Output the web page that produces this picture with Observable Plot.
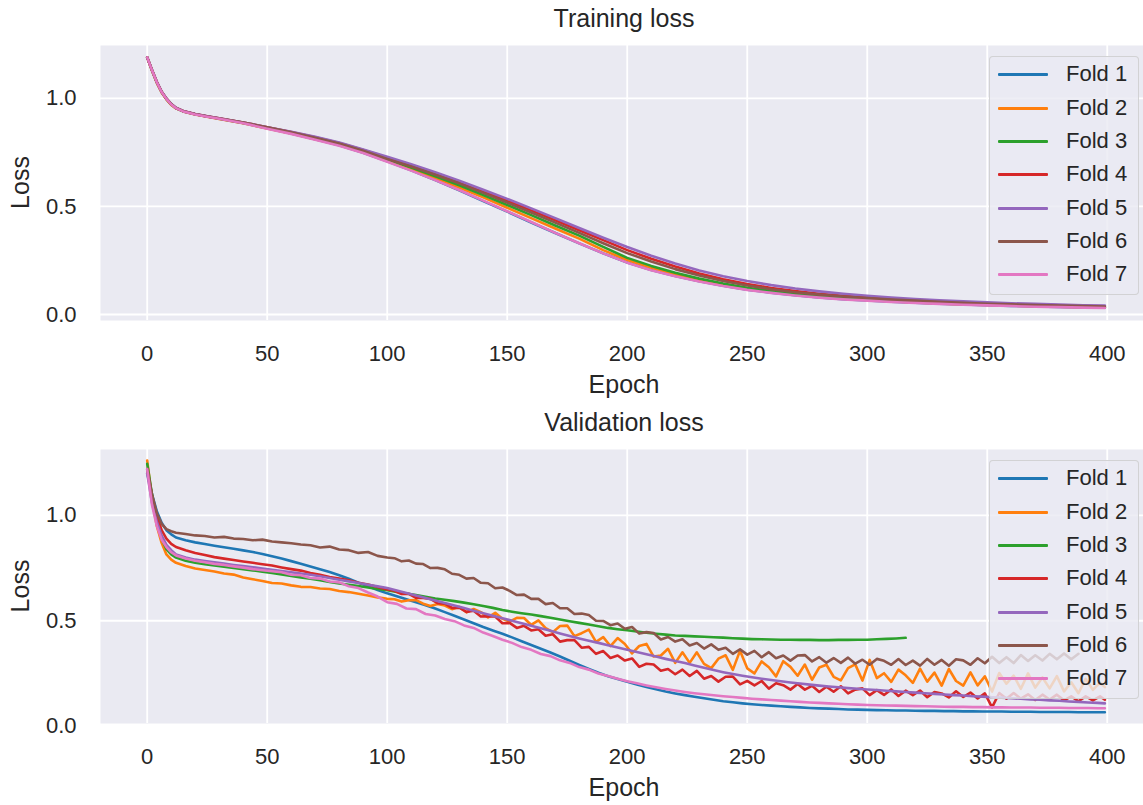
<!DOCTYPE html>
<html><head><meta charset="utf-8">
<script src="https://cdn.jsdelivr.net/npm/d3@7"></script>
<script src="https://cdn.jsdelivr.net/npm/@observablehq/plot@0.6"></script>
<style>
html,body{margin:0;padding:0;background:#fff;overflow:hidden;}
#root{position:relative;width:1143px;height:805px;font-family:"Liberation Sans",Arial,sans-serif;color:#262626;}
#root svg{position:absolute;left:0;overflow:visible;}
.legend{position:absolute;box-sizing:border-box;background:rgba(234,234,242,0.8);border:1px solid rgba(204,204,204,0.8);border-radius:4px;}
.legend .row{position:absolute;left:0;height:0;}
.legend .sw{position:absolute;left:8px;top:-1px;width:50px;height:3px;border-radius:1px;}
.legend .lb{position:absolute;left:76px;top:-13px;font-size:22px;line-height:26px;white-space:nowrap;color:#262626;}
</style></head><body><div id="root"></div><script>
const folds = ["Fold 1","Fold 2","Fold 3","Fold 4","Fold 5","Fold 6","Fold 7"];
const colors = ["#1f77b4","#ff7f0e","#2ca02c","#d62728","#9467bd","#8c564b","#e377c2"];
const xTicks = [0,50,100,150,200,250,300,350,400];
const yTicks = [0,0.5,1.0];

const trainEpochs = [0,2,4,6,8,10,12,15,20,25,30,40,50,60,70,80,90,100,110,120,130,140,150,160,170,180,190,200,210,220,230,240,250,260,270,280,290,300,310,320,330,340,350,360,370,380,390,399];
const trainFold1 = [1.19,1.13,1.074,1.03,0.997,0.972,0.955,0.94,0.927,0.916,0.906,0.886, 0.862,0.838,0.811,0.783,0.749,0.709, 0.667,0.622,0.575,0.525,0.476,0.426,0.377,0.329,0.283,0.241, 0.206,0.178,0.154,0.133,0.115,0.101,0.089,0.079,0.071,0.065, 0.059,0.054,0.05,0.046,0.043,0.04,0.037,0.035,0.033,0.031];
const trainFold2 = [1.19,1.128,1.072,1.028,0.996,0.97,0.954,0.94,0.926,0.915,0.905,0.885, 0.861,0.838,0.811,0.784,0.751,0.712, 0.673,0.632,0.588,0.542,0.494,0.446,0.398,0.351,0.298,0.252, 0.216,0.186,0.16,0.138,0.12,0.105,0.092,0.082,0.074,0.067, 0.061,0.056,0.051,0.047,0.044,0.041,0.038,0.036,0.034,0.032];
const trainFold3 = [1.19,1.13,1.075,1.03,0.998,0.973,0.955,0.941,0.927,0.916,0.907,0.887, 0.864,0.841,0.815,0.788,0.756,0.718, 0.68,0.64,0.598,0.553,0.507,0.46,0.412,0.365,0.313,0.262, 0.225,0.193,0.166,0.143,0.124,0.108,0.095,0.085,0.076,0.069, 0.063,0.058,0.053,0.049,0.046,0.043,0.04,0.037,0.035,0.033];
const trainFold4 = [1.19,1.131,1.076,1.031,0.999,0.974,0.956,0.942,0.928,0.917,0.908,0.889, 0.867,0.845,0.82,0.794,0.761,0.725, 0.69,0.652,0.613,0.57,0.527,0.482,0.436,0.39,0.344,0.298, 0.258,0.222,0.19,0.163,0.141,0.123,0.108,0.096,0.086,0.078, 0.071,0.065,0.06,0.055,0.051,0.048,0.045,0.042,0.04,0.038];
const trainFold5 = [1.19,1.132,1.077,1.032,1.0,0.975,0.957,0.942,0.928,0.917,0.908,0.889, 0.867,0.846,0.822,0.796,0.764,0.73, 0.695,0.658,0.619,0.577,0.535,0.491,0.446,0.4,0.355,0.312, 0.272,0.236,0.204,0.177,0.155,0.136,0.12,0.107,0.096,0.087, 0.079,0.072,0.066,0.061,0.056,0.052,0.049,0.046,0.043,0.041];
const trainFold6 = [1.19,1.131,1.076,1.031,0.999,0.974,0.956,0.941,0.927,0.916,0.907,0.888, 0.866,0.843,0.818,0.791,0.758,0.72, 0.685,0.647,0.607,0.563,0.518,0.472,0.425,0.378,0.33,0.284, 0.245,0.21,0.18,0.155,0.134,0.117,0.103,0.092,0.083,0.076, 0.069,0.064,0.059,0.054,0.05,0.047,0.044,0.041,0.039,0.037];
const trainFold7 = [1.19,1.13,1.075,1.03,0.998,0.972,0.955,0.94,0.926,0.915,0.906,0.885, 0.860,0.836,0.809,0.781,0.747,0.707, 0.666,0.622,0.576,0.527,0.478,0.428,0.378,0.330,0.283,0.240, 0.205,0.177,0.153,0.132,0.114,0.1,0.088,0.078,0.07,0.064, 0.058,0.053,0.049,0.045,0.042,0.039,0.036,0.034,0.032,0.030];

// smooth validation folds (1, 3, 5, 7)
const valEpochs = [0,2,4,6,8,10,12,16,20,24,28,32,36,40,44,48,52,56,60,64,68,72,76,80,84,88,92,96,100,104,108,112,116,120,124,128,132,136,140,144,148,152,156,160,164,168,172,176,180,184,188,192,196,200,204,208,212,216,220,224,228,232,236,240,244,248,252,256,260,264,268,272,276,280,284,288,292,296,300,304,308,312,316,320,324,328,332,336,340,344,348,352,356,360,364,368,372,376,380,384,388,392,396,399];
// noisy validation folds (2, 4, 6)
const valNoisyEpochs = [0,2,4,6,8,10,12,16,20,24,28,32,36,40,44,48,52,56,60,64,68,72,76,80,84,88,92,96,100,
 103,106,109,112,115,118,121,124,127,130,133,136,139,142,145,148,151,154,157,160,
 163,166,169,172,175,178,181,184,187,190,193,196,199,202,205,208,211,214,217,220,
 223,226,229,232,235,238,241,244,247,250,253,256,259,262,265,268,271,274,277,280,
 283,286,289,292,295,298,301,304,307,310,313,316,319,322,325,328,331,334,337,340,
 343,346,349,352,355,358,361,364,367,370,373,376,379,382,385,388,391,394,397,399];

const valFold1 = [
 1.20,1.10,1.02,0.965,0.93,0.91,0.895,0.882,0.872,0.864,
 0.856,0.849,0.842,0.834,0.826,0.817,0.806,0.795,0.783,0.771,
 0.758,0.745,0.731,0.716,0.699,0.681,0.663,0.646,0.630,0.616,
 0.602,0.588,0.574,0.558,0.541,0.524,0.506,0.488,0.470,0.454,
 0.438,0.421,0.403,0.385,0.367,0.349,0.330,0.310,0.290,0.271,
 0.253,0.237,0.223,0.210,0.198,0.186,0.175,0.164,0.155,0.147,
 0.139,0.132,0.125,0.118,0.113,0.108,0.104,0.100,0.097,0.094,
 0.091,0.089,0.086,0.084,0.083,0.081,0.079,0.078,0.077,0.076,
 0.075,0.074,0.074,0.073,0.072,0.072,0.071,0.071,0.070,0.070,
 0.069,0.069,0.069,0.068,0.068,0.068,0.067,0.067,0.067,0.067,
 0.066,0.066,0.066,0.066];
const valFold2 = [
 1.26,1.08,0.95,0.87,0.815,0.79,0.775,0.76,0.748,0.741,
 0.734,0.724,0.719,0.705,0.697,0.689,0.679,0.677,0.668,0.661,
 0.660,0.653,0.651,0.641,0.636,0.628,0.620,0.611,0.604,
 0.602,0.591,0.597,0.598,0.581,0.570,0.580,0.572,0.555,0.566,
 0.540,0.556,0.541,0.516,0.538,0.509,0.496,0.514,0.513,0.480,
 0.502,0.465,0.446,0.475,0.477,0.427,0.441,0.458,0.400,0.422,
 0.380,0.418,0.390,0.345,0.380,0.390,0.330,0.335,0.367,0.300,
 0.350,0.300,0.350,0.295,0.275,0.320,0.336,0.267,0.358,0.274,
 0.250,0.307,0.279,0.236,0.308,0.281,0.239,0.292,0.220,0.278,
 0.291,0.234,0.217,0.275,0.293,0.216,0.314,0.228,0.251,0.210,
 0.268,0.241,0.205,0.273,0.211,0.254,0.192,0.271,0.214,0.192,
 0.255,0.193,0.236,0.164,0.252,0.201,0.239,0.177,0.250,0.183,
 0.231,0.179,0.237,0.165,0.208,0.156,0.224,0.172,0.206,0.185];
const valFold3 = [
 1.245,1.10,0.98,0.89,0.84,0.815,0.80,0.785,0.775,0.768,
 0.762,0.757,0.751,0.745,0.739,0.733,0.727,0.720,0.712,0.706,
 0.699,0.692,0.684,0.677,0.671,0.665,0.658,0.651,0.645,0.637,
 0.629,0.622,0.614,0.606,0.600,0.593,0.586,0.578,0.570,0.561,
 0.551,0.543,0.536,0.530,0.522,0.514,0.506,0.498,0.490,0.482,
 0.474,0.466,0.460,0.455,0.449,0.443,0.438,0.434,0.430,0.428,
 0.426,0.424,0.422,0.420,0.417,0.415,0.413,0.412,0.411,0.410,
 0.410,0.409,0.409,0.408,0.408,0.409,0.409,0.410,0.410,0.412,
 0.414,0.416,0.419];
const valFold4 = [
 1.22,1.09,1.00,0.93,0.89,0.865,0.85,0.835,0.822,0.812,
 0.802,0.795,0.788,0.781,0.775,0.768,0.762,0.753,0.745,0.738,
 0.727,0.718,0.708,0.700,0.692,0.680,0.672,0.660,0.648,
 0.642,0.627,0.628,0.608,0.608,0.604,0.583,0.581,0.561,0.562,
 0.542,0.548,0.520,0.522,0.520,0.488,0.490,0.466,0.476,0.454,
 0.460,0.429,0.436,0.401,0.408,0.408,0.372,0.376,0.343,0.356,
 0.323,0.335,0.311,0.321,0.281,0.296,0.292,0.263,0.271,0.246,
 0.268,0.238,0.262,0.225,0.238,0.211,0.234,0.235,0.198,0.215,
 0.193,0.214,0.178,0.203,0.194,0.173,0.200,0.173,0.191,0.162,
 0.187,0.163,0.189,0.155,0.173,0.179,0.147,0.171,0.148,0.174,
 0.143,0.168,0.147,0.169,0.137,0.162,0.155,0.136,0.165,0.138,
 0.159,0.131,0.155,0.089,0.157,0.130,0.157,0.130,0.151,0.124,
 0.149,0.126,0.149,0.122,0.141,0.118,0.141,0.122,0.141,0.125];
const valFold5 = [
 1.20,1.06,0.97,0.905,0.86,0.835,0.815,0.80,0.79,0.783,
 0.777,0.771,0.765,0.760,0.754,0.748,0.742,0.736,0.730,0.724,
 0.718,0.711,0.703,0.695,0.687,0.679,0.671,0.663,0.655,0.644,
 0.632,0.620,0.608,0.596,0.584,0.572,0.560,0.548,0.536,0.524,
 0.512,0.500,0.488,0.476,0.464,0.452,0.440,0.428,0.416,0.405,
 0.395,0.384,0.373,0.362,0.352,0.341,0.330,0.319,0.309,0.299,
 0.288,0.277,0.266,0.256,0.247,0.239,0.232,0.225,0.219,0.213,
 0.207,0.202,0.197,0.192,0.188,0.184,0.180,0.177,0.174,0.171,
 0.168,0.165,0.162,0.159,0.156,0.153,0.150,0.147,0.145,0.142,
 0.140,0.137,0.135,0.132,0.130,0.127,0.125,0.122,0.120,0.117,
 0.115,0.112,0.110,0.108];
const valFold6 = [
 1.22,1.10,1.01,0.96,0.935,0.925,0.918,0.912,0.905,0.902,
 0.895,0.898,0.890,0.888,0.882,0.885,0.876,0.872,0.868,0.862,
 0.858,0.848,0.852,0.838,0.835,0.822,0.826,0.808,0.800,
 0.797,0.782,0.786,0.771,0.769,0.750,0.751,0.744,0.723,0.718,
 0.700,0.703,0.680,0.678,0.654,0.658,0.642,0.622,0.624,0.604,
 0.604,0.579,0.584,0.559,0.559,0.532,0.534,0.527,0.500,0.499,
 0.479,0.487,0.462,0.470,0.439,0.446,0.442,0.411,0.423,0.401,
 0.412,0.383,0.394,0.368,0.388,0.362,0.372,0.343,0.364,0.339,
 0.357,0.327,0.351,0.322,0.335,0.311,0.335,0.337,0.307,0.327,
 0.301,0.323,0.300,0.325,0.296,0.315,0.291,0.319,0.310,0.291,
 0.318,0.290,0.311,0.287,0.319,0.291,0.314,0.286,0.317,0.312,
 0.291,0.322,0.298,0.329,0.299,0.327,0.299,0.337,0.309,0.336,
 0.311,0.343,0.317,0.345,0.317,0.343];
const valFold7 = [
 1.22,1.05,0.95,0.885,0.85,0.825,0.81,0.795,0.785,0.778,
 0.770,0.765,0.758,0.752,0.745,0.740,0.735,0.730,0.718,0.716,
 0.703,0.700,0.686,0.682,0.664,0.655,0.634,0.615,0.588,0.580,
 0.558,0.555,0.532,0.525,0.508,0.498,0.478,0.466,0.444,0.428,
 0.410,0.395,0.375,0.362,0.342,0.332,0.312,0.300,0.280,0.268,
 0.250,0.238,0.225,0.213,0.203,0.193,0.184,0.176,0.169,0.162,
 0.156,0.151,0.146,0.142,0.138,0.134,0.130,0.127,0.124,0.121,
 0.118,0.115,0.112,0.110,0.108,0.106,0.104,0.102,0.100,0.099,
 0.098,0.097,0.096,0.095,0.094,0.093,0.092,0.091,0.091,0.090,
 0.090,0.089,0.089,0.088,0.088,0.088,0.087,0.087,0.087,0.086,
 0.086,0.086,0.085,0.085];

const trainSeries = [trainFold1,trainFold2,trainFold3,trainFold4,trainFold5,trainFold6,trainFold7].map(v => [trainEpochs, v]);
const valSeries = [
  [valEpochs, valFold1], [valNoisyEpochs, valFold2], [valEpochs, valFold3], [valNoisyEpochs, valFold4],
  [valEpochs, valFold5], [valNoisyEpochs, valFold6], [valEpochs, valFold7]
];

function rows(series) {
  return series.flatMap(([epochs, vals], i) => vals.map((v, j) => ({fold: folds[i], epoch: epochs[j], loss: v})));
}

const root = document.getElementById("root");
const FONT = "Liberation Sans, Arial, sans-serif";

function panel(cfg) {
  const gridTicks = yTicks.filter(t => t >= cfg.yDomain[0]);
  const svg = Plot.plot({
    width: 1143, height: cfg.height,
    marginTop: cfg.marginTop, marginBottom: cfg.marginBottom, marginLeft: 100, marginRight: 0,
    style: {fontFamily: FONT, fontSize: "22px", color: "#262626", background: "transparent", overflow: "visible"},
    x: {domain: [-19.46, 415.1]},
    y: {domain: cfg.yDomain},
    color: {domain: folds, range: colors},
    marks: [
      Plot.frame({fill: "#EAEAF2", stroke: "none"}),
      Plot.gridX(xTicks, {stroke: "#ffffff", strokeOpacity: 1, strokeWidth: 1.8}),
      Plot.gridY(gridTicks, {stroke: "#ffffff", strokeOpacity: 1, strokeWidth: 1.8}),
      Plot.axisX(xTicks, {tickSize: 0, tickPadding: 25, label: null, tickFormat: d3.format("d"), fontSize: 22}),
      Plot.axisY(yTicks, {tickSize: 0, tickPadding: 24, label: null, tickFormat: d3.format(".1f"), fontSize: 22}),
      Plot.line(cfg.data, {x: "epoch", y: "loss", stroke: "fold", z: "fold", strokeWidth: 2.6, strokeLinejoin: "round", strokeLinecap: "round"})
    ]
  });
  svg.style.top = cfg.top + "px";
  const s = d3.select(svg);
  s.append("text").attr("x", 624).attr("y", cfg.titleY).attr("text-anchor", "middle")
    .attr("fill", "#262626").style("font-size", "25px").style("font-family", FONT).text(cfg.title);
  s.append("text").attr("x", 624).attr("y", cfg.xLabelY).attr("text-anchor", "middle")
    .attr("fill", "#262626").style("font-size", "25px").style("font-family", FONT).text("Epoch");
  s.append("text").attr("transform", `translate(29,${cfg.yLabelCenter}) rotate(-90)`).attr("text-anchor", "middle")
    .attr("fill", "#262626").style("font-size", "25px").style("font-family", FONT).text("Loss");
  root.appendChild(svg);

  const lg = document.createElement("div");
  lg.className = "legend";
  lg.style.left = "989px"; lg.style.top = cfg.legendTop + "px";
  lg.style.width = "150px"; lg.style.height = "239px";
  folds.forEach((f, i) => {
    const r = document.createElement("div");
    r.className = "row";
    r.style.top = Math.round(17.3 + 33.3 * i) + "px";
    const sw = document.createElement("div"); sw.className = "sw"; sw.style.background = colors[i];
    const lb = document.createElement("div"); lb.className = "lb"; lb.textContent = f;
    r.appendChild(sw); r.appendChild(lb); lg.appendChild(r);
  });
  root.appendChild(lg);
}

panel({
  data: rows(trainSeries), yDomain: [-0.0278, 1.245],
  top: 0, height: 400, marginTop: 45, marginBottom: 80,
  title: "Training loss", titleY: 27, xLabelY: 393, yLabelCenter: 182.5, legendTop: 56
});
panel({
  data: rows(valSeries), yDomain: [0.0123, 1.3128],
  top: 400, height: 405, marginTop: 49, marginBottom: 82,
  title: "Validation loss", titleY: 31, xLabelY: 396, yLabelCenter: 186, legendTop: 460
});
</script></body></html>
